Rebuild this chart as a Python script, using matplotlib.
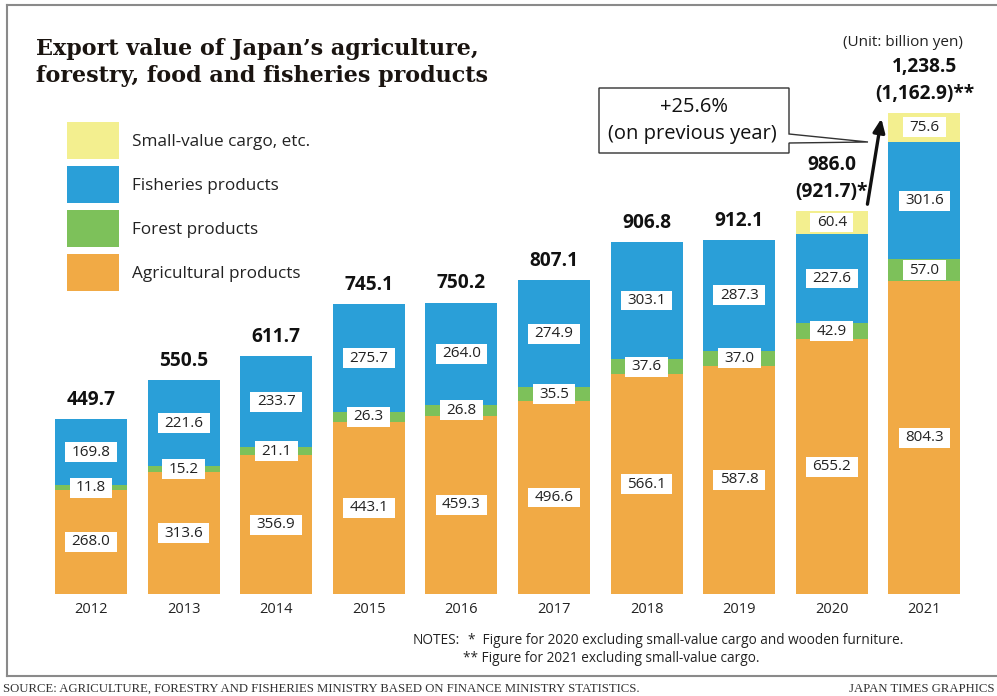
import numpy as np
import matplotlib.pyplot as plt
from matplotlib.patches import Patch, Polygon
from matplotlib.lines import Line2D
from matplotlib.path import Path

plt.rcParams['font.family'] = ['Open Sans', 'DejaVu Sans']

# Data (billion yen)
years = ['2012', '2013', '2014', '2015', '2016', '2017', '2018', '2019', '2020', '2021']
agri = [268.0, 313.6, 356.9, 443.1, 459.3, 496.6, 566.1, 587.8, 655.2, 804.3]
forest = [11.8, 15.2, 21.1, 26.3, 26.8, 35.5, 37.6, 37.0, 42.9, 57.0]
fish = [169.8, 221.6, 233.7, 275.7, 264.0, 274.9, 303.1, 287.3, 227.6, 301.6]
small = [0, 0, 0, 0, 0, 0, 0, 0, 60.4, 75.6]
totals = [449.7, 550.5, 611.7, 745.1, 750.2, 807.1, 906.8, 912.1, 986.0, 1238.5]
excl_totals = [None] * 8 + ['(921.7)*', '(1,162.9)**']

c_agri = '#F1AA45'
c_forest = '#7DC15A'
c_fish = '#2A9FD8'
c_small = '#F3EF8F'

W, H = 997, 696
fig = plt.figure(figsize=(W / 100, H / 100), dpi=100)


def fx(x):
    return x / W


def fy(y):
    return 1 - y / H


# axes: baseline at 594 px, scale 0.3886 px per billion yen, bars every 92.6 px
ax = fig.add_axes([0, fy(594), 1, 594 / H])
ax.set_xlim(-91 / 92.6, (W - 91) / 92.6)
ax.set_ylim(0, 594 / 0.3886)
for s in ax.spines.values():
    s.set_visible(False)
ax.set_yticks([])
x = np.arange(len(years))
ax.set_xticks(x)
ax.set_xticklabels(years, fontsize=10.5, color='#222222')
ax.tick_params(axis='x', length=0, pad=6)
ax.patch.set_alpha(0)

bw = 72 / 92.6
b1 = np.array(agri)
b2 = b1 + np.array(forest)
b3 = b2 + np.array(fish)
ax.bar(x, agri, bw, color=c_agri)
ax.bar(x, forest, bw, bottom=b1, color=c_forest)
ax.bar(x, fish, bw, bottom=b2, color=c_fish)
ax.bar(x, small, bw, bottom=b3, color=c_small)


def label_box(x0, y0, width, height, mutation_size):
    px = 0.42 * mutation_size
    py = 0.16 * mutation_size
    l, b, r, t = x0 - px, y0 - py, x0 + width + px, y0 + height + py
    return Path([(l, b), (r, b), (r, t), (l, t), (l, b)], closed=True)


box = dict(boxstyle=label_box, facecolor='white', edgecolor='none')
for series, bottoms in [(agri, np.zeros(len(x))), (forest, b1), (fish, b2), (small, b3)]:
    for i, v in enumerate(series):
        if v > 0:
            ax.text(x[i], bottoms[i] + v / 2, f'{v:.1f}', ha='center', va='center',
                    fontsize=11, color='#222222', bbox=box)

# totals above bars
for i, t in enumerate(totals):
    top = t
    if excl_totals[i]:
        ax.annotate(excl_totals[i], (x[i], top), xytext=(0, 19), textcoords='offset pixels',
                    ha='center', va='center', fontsize=13.8, fontweight='bold', color='#111111')
        ax.annotate(f'{t:,.1f}', (x[i], top), xytext=(0, 46), textcoords='offset pixels',
                    ha='center', va='center', fontsize=13.8, fontweight='bold', color='#111111')
    else:
        ax.annotate(f'{t:,.1f}', (x[i], top), xytext=(0, 19), textcoords='offset pixels',
                    ha='center', va='center', fontsize=13.8, fontweight='bold', color='#111111')

# growth arrow from 2020 to 2021
ax.annotate('', xy=(8.54, totals[9] - 8), xytext=(8.38, totals[8] + 10),
            arrowprops=dict(arrowstyle='-|>,head_length=0.8,head_width=0.35', lw=2.4, color='#111111'))

# callout box
callout = Polygon([(fx(599), fy(88)), (fx(789), fy(88)), (fx(789), fy(134)), (fx(868), fy(142)),
                   (fx(789), fy(143)), (fx(789), fy(153)), (fx(599), fy(153))],
                  closed=True, facecolor='white', edgecolor='#333333', lw=1.0,
                  transform=fig.transFigure)
fig.add_artist(callout)
fig.text(fx(694), fy(107), '+25.6%', ha='center', va='center', fontsize=14.5, color='#111111')
fig.text(fx(692), fy(134), '(on previous year)', ha='center', va='center', fontsize=14.5,
         color='#111111')

# title
fig.text(fx(36), fy(49), 'Export value of Japan\u2019s agriculture,', ha='left', va='center',
         fontsize=16, fontweight='bold', family='DejaVu Serif', color='#1a1410')
fig.text(fx(36), fy(76), 'forestry, food and fisheries products', ha='left', va='center',
         fontsize=16, fontweight='bold', family='DejaVu Serif', color='#1a1410')

fig.text(fx(963), fy(43), '(Unit: billion yen)', ha='right', va='center', fontsize=11,
         color='#222222')

# legend
fs = 12.3
fpx = fs * 100 / 72
hh = (37 / fpx - 0.245) / 0.65
handles = [Patch(facecolor=c_small, edgecolor='none', label='Small-value cargo, etc.'),
           Patch(facecolor=c_fish, edgecolor='none', label='Fisheries products'),
           Patch(facecolor=c_forest, edgecolor='none', label='Forest products'),
           Patch(facecolor=c_agri, edgecolor='none', label='Agricultural products')]
fig.legend(handles=handles, loc='upper left', bbox_to_anchor=(fx(67), fy(122)),
           frameon=False, fontsize=fs, borderpad=0, borderaxespad=0,
           handlelength=52 / fpx, handleheight=hh, labelspacing=7 / fpx,
           handletextpad=13 / fpx, labelcolor='#222222')

# notes
fig.text(fx(413), fy(640), 'NOTES:', ha='left', va='center', fontsize=9.8, color='#222222')
fig.text(fx(468), fy(640), '*  Figure for 2020 excluding small-value cargo and wooden furniture.',
         ha='left', va='center', fontsize=9.8, color='#222222')
fig.text(fx(463), fy(658), '** Figure for 2021 excluding small-value cargo.',
         ha='left', va='center', fontsize=9.8, color='#222222')

# frame
fcol = '#8a8a8a'
fig.add_artist(Line2D([fx(7), fx(7)], [fy(5), fy(676)], color=fcol, lw=1.5))
fig.add_artist(Line2D([fx(7), 1], [fy(5), fy(5)], color=fcol, lw=1.5))
fig.add_artist(Line2D([fx(7), 1], [fy(676), fy(676)], color=fcol, lw=1.5))

# footer
fig.text(fx(3), fy(689), 'SOURCE: AGRICULTURE, FORESTRY AND FISHERIES MINISTRY BASED ON FINANCE MINISTRY STATISTICS.',
         ha='left', va='center', fontsize=9.2, family='Liberation Serif', color='#333333')
fig.text(fx(994), fy(689), 'JAPAN TIMES GRAPHICS', ha='right', va='center', fontsize=9.2,
         family='Liberation Serif', color='#333333')

fig.savefig('out.png', dpi=100, facecolor='white')
